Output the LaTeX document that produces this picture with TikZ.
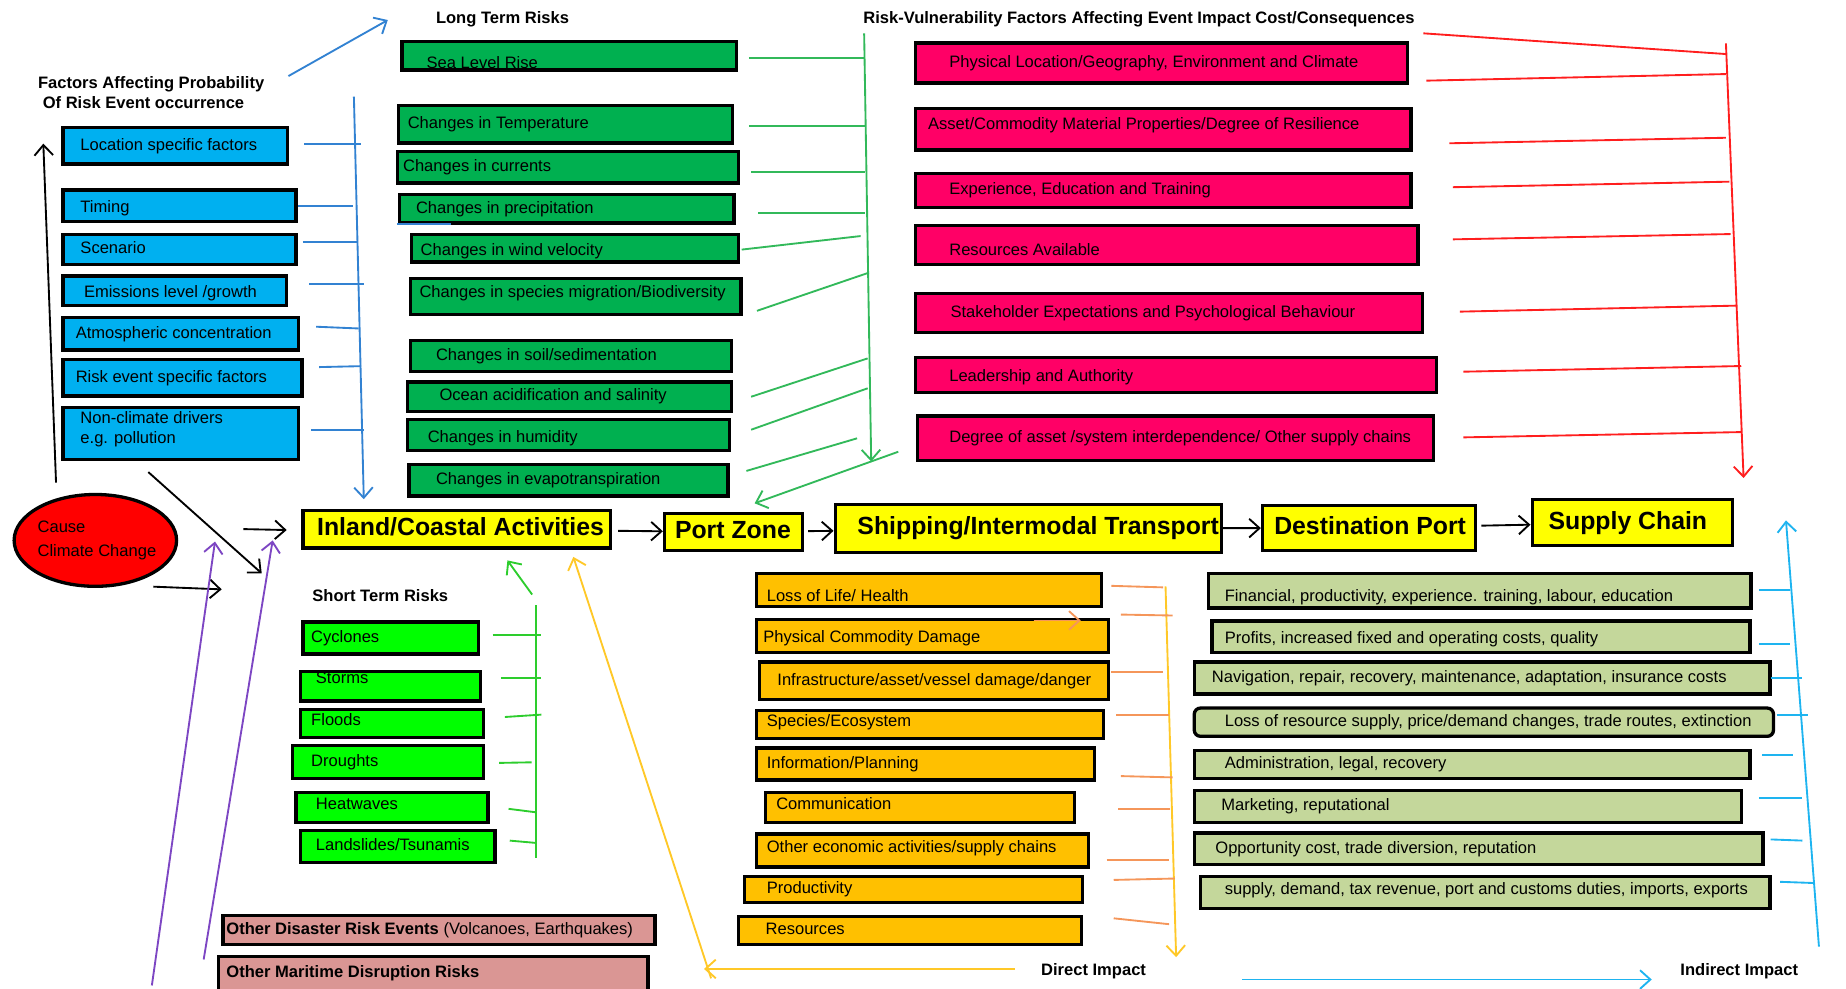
\documentclass[tikz,border=0pt]{standalone}
\usepackage{fontspec}
\setmainfont{Liberation Sans}
\usetikzlibrary{arrows.meta,shapes.geometric}
\definecolor{factorblue}{HTML}{00B0F0}
\definecolor{longgreen}{HTML}{00B050}
\definecolor{vulnpink}{HTML}{FF0066}
\definecolor{chainyellow}{HTML}{FFFF00}
\definecolor{shortgreen}{HTML}{00FF00}
\definecolor{otherrose}{HTML}{DA9694}
\definecolor{directorange}{HTML}{FFC000}
\definecolor{indirectolive}{HTML}{C4D79B}
\definecolor{causered}{HTML}{FF0000}
\definecolor{linkblue}{RGB}{50,130,210}
\definecolor{linkgreen}{RGB}{50,185,90}
\definecolor{linkred}{RGB}{255,30,30}
\definecolor{linkpurple}{RGB}{125,70,195}
\definecolor{linklime}{RGB}{45,205,45}
\definecolor{linkamber}{RGB}{255,200,40}
\definecolor{linksalmon}{RGB}{245,150,90}
\definecolor{linkcyan}{RGB}{30,180,240}
\tikzset{
  cell/.style 2 args={
    draw=black,
    line width=1.6pt,
    minimum width={#1*0.02cm},
    minimum height={#2*0.02cm},
    inner sep=0pt,
    anchor=north west,
  },
  factor box/.style 2 args={cell={#1}{#2}, fill=factorblue},
  long box/.style 2 args={cell={#1}{#2}, fill=longgreen},
  vuln box/.style 2 args={cell={#1}{#2}, fill=vulnpink},
  chain box/.style 2 args={cell={#1}{#2}, fill=chainyellow},
  short box/.style 2 args={cell={#1}{#2}, fill=shortgreen},
  other box/.style 2 args={cell={#1}{#2}, fill=otherrose},
  direct box/.style 2 args={cell={#1}{#2}, fill=directorange},
  indirect box/.style 2 args={cell={#1}{#2}, fill=indirectolive},
  cause/.style={
    ellipse,
    draw=black,
    line width=1.6pt,
    fill=causered,
    minimum width={138*0.02cm},
    minimum height={78*0.02cm},
    inner sep=0pt,
  },
  tx/.style={anchor=west, inner sep=0pt, xshift={#1*0.02cm}, text height=6pt, text depth=1.8pt},
  tx2/.style={anchor=west, inner sep=0pt, xshift={#1*0.02cm}, align=left},
  tx down/.style={yshift={-#1*0.02cm}},
  tx up/.style={yshift={#1*0.02cm}},
  main tx/.style={tx=#1, font=\bfseries\fontsize{12}{14}\selectfont, text height=8.8pt, text depth=2.6pt},
  heading/.style={anchor=west, inner sep=0pt, font=\bfseries\fontsize{8}{9.6}\selectfont},
  sketch line/.style={line width=0.9pt},
  open head/.style={-{Straight Barb[length=5pt,width=9pt]}},
}
\begin{document}
\begin{tikzpicture}[x=0.02cm, y=-0.02cm, font=\fontsize{8}{9.6}\selectfont]
  \useasboundingbox (0,0) rectangle (1568,840);

  % headings
  \node [heading] (longterm) at (370,16) {Long Term Risks};
  \node [heading] (vulnerability) at (733,16) {Risk-Vulnerability Factors Affecting Event Impact Cost/Consequences};
  \node [heading, align=left] (factors) at (32,78.7) {Factors Affecting Probability\\\hspace*{0.08cm}Of Risk Event occurrence};
  \node [heading] (shortterm) at (265,506) {Short Term Risks};
  \node [heading] (direct) at (884,825) {Direct Impact};
  \node [heading] (indirect) at (1427,825) {Indirect Impact};

  % probability factors
  \node [factor box={191}{31}, label={[tx=16]west:Location specific factors}] (loc) at (52,107) {};
  \node [factor box={198}{27}, label={[tx=16, tx down=2]west:Timing}] (timing) at (52,160) {};
  \node [factor box={198}{25}, label={[tx=16]west:Scenario}] (scenario) at (52,198) {};
  \node [factor box={190}{25}, label={[tx=19, tx down=2]west:Emissions level /growth}] (emissions) at (52,233) {};
  \node [factor box={200}{28}, label={[tx=12]west:Atmospheric concentration}] (atmos) at (52,268) {};
  \node [factor box={203}{31}, label={[tx=12]west:Risk event specific factors}] (riskevent) at (52,304) {};
  \node [factor box={200}{44}, label={[tx2=16, tx up=4]west:Non-climate drivers\\e.g. pollution}] (nonclimate) at (52,345) {};

  % long term risks
  \node [long box={284}{24}, label={[tx=22, tx down=7]west:Sea Level Rise}] (sealevel) at (340,34) {};
  \node [long box={284}{32}, label={[tx=9]west:Changes in Temperature}] (temperature) at (337,88) {};
  \node [long box={290}{27}, label={[tx=6]west:Changes in currents}] (currents) at (336,127) {};
  \node [long box={284}{24}, label={[tx=15]west:Changes in precipitation}] (precipitation) at (338,164) {};
  \node [long box={278}{23}, label={[tx=9, tx down=2]west:Changes in wind velocity}] (wind) at (348,198) {};
  \node [long box={281}{31}, label={[tx=9, tx up=3]west:Changes in species migration/Biodiversity}] (migration) at (347,235) {};
  \node [long box={273}{26}, label={[tx=23]west:Changes in soil/sedimentation}] (soil) at (347,288) {};
  \node [long box={275}{25}, label={[tx=28]west:Ocean acidification and salinity}] (ocean) at (345,323) {};
  \node [long box={273}{26}, label={[tx=18, tx down=3]west:Changes in humidity}] (humidity) at (345,355) {};
  \node [long box={271}{27}, label={[tx=24]west:Changes in evapotranspiration}] (evapo) at (346,393) {};

  % vulnerability factors
  \node [vuln box={418}{34}, label={[tx=30]west:Physical Location/Geography, Environment and Climate}] (geography) at (776,35) {};
  \node [vuln box={421}{35}, label={[tx=12, tx up=4]west:Asset/Commodity Material Properties/Degree of Resilience}] (resilience) at (776,91) {};
  \node [vuln box={421}{29}, label={[tx=30]west:Experience, Education and Training}] (training) at (776,146) {};
  \node [vuln box={427}{33}, label={[tx=30, tx down=5]west:Resources Available}] (available) at (776,190) {};
  \node [vuln box={431}{33}, label={[tx=31]west:Stakeholder Expectations and Psychological Behaviour}] (stakeholder) at (776,248) {};
  \node [vuln box={443}{30}, label={[tx=30, tx down=2]west:Leadership and Authority}] (leadership) at (776,302) {};
  \node [vuln box={438}{38}, label={[tx=28]west:Degree of asset /system interdependence/ Other supply chains}] (interdependence) at (778,352) {};

  % cause and activity chain
  \node [cause, label={[tx2=21, font=\fontsize{8}{11.3}\selectfont]west:Cause\\Climate Change}] (cause) at (81,459) {};
  \node [chain box={261}{32}, label={[main tx=13]west:Inland/Coastal Activities}] (inland) at (256,432) {};
  \node [chain box={117}{31}, label={[main tx=10]west:Port Zone}] (port) at (563,435) {};
  \node [chain box={328}{41}, label={[main tx=20]west:Shipping/Intermodal Transport}] (shipping) at (708,427) {};
  \node [chain box={181}{38}, label={[main tx=11]west:Destination Port}] (destination) at (1071,428) {};
  \node [chain box={170}{39}, label={[main tx=15]west:Supply Chain}] (supply) at (1300,423) {};

  % short term risks
  \node [short box={149}{27}, label={[tx=8]west:Cyclones}] (cyclones) at (256,527) {};
  \node [short box={153}{25}, label={[tx=14, tx up=6]west:Storms}] (storms) at (254,569) {};
  \node [short box={155}{24}, label={[tx=10, tx up=2]west:Floods}] (floods) at (254,601) {};
  \node [short box={162}{28}, label={[tx=17]west:Droughts}] (droughts) at (247,632) {};
  \node [short box={163}{25}, label={[tx=18, tx up=2]west:Heatwaves}] (heatwaves) at (250,672) {};
  \node [short box={165}{27}, label={[tx=14]west:Landslides/Tsunamis}] (landslides) at (254,704) {};
  \node [other box={367}{25}, label={[tx=4]west:{\bfseries Other Disaster Risk Events} (Volcanoes, Earthquakes)}] (disaster) at (188,776) {};
  \node [other box={365}{34}, label={[tx=8, tx up=3]west:\bfseries Other Maritime Disruption Risks}] (maritime) at (184,811) {};

  % direct impacts
  \node [direct box={293}{28}, label={[tx=10, tx down=6]west:Loss of Life/ Health}] (life) at (641,486) {};
  \node [direct box={299}{28}, label={[tx=7, tx down=2]west:Physical Commodity Damage}] (commodity) at (641,525) {};
  \node [direct box={296}{32}, label={[tx=16]west:Infrastructure/asset/vessel damage/danger}] (infrastructure) at (644,561) {};
  \node [direct box={295}{24}, label={[tx=10, tx up=2]west:Species/Ecosystem}] (ecosystem) at (641,602) {};
  \node [direct box={287}{27}, label={[tx=10]west:Information/Planning}] (planning) at (641,634) {};
  \node [direct box={262}{25}, label={[tx=10, tx up=2]west:Communication}] (communication) at (649,672) {};
  \node [direct box={282}{28}, label={[tx=10, tx up=2]west:Other economic activities/supply chains}] (economic) at (641,707) {};
  \node [direct box={287}{22}, label={[tx=20]west:Productivity}] (productivity) at (631,743) {};
  \node [direct box={291}{24}, label={[tx=24]west:Resources}] (resources) at (626,777) {};

  % indirect impacts
  \node [indirect box={461}{29}, label={[tx=15, tx down=5]west:Financial, productivity, experience. training, labour, education}] (financial) at (1025,486) {};
  \node [indirect box={457}{27}, label={[tx=12, tx down=2]west:Profits, increased fixed and operating costs, quality}] (profits) at (1028,526) {};
  \node [indirect box={489}{27}, label={[tx=16]west:Navigation, repair, recovery, maintenance, adaptation, insurance costs}] (navigation) at (1013,561) {};
  \node [indirect box={492}{24}, rounded corners=3pt, label={[tx=27]west:Loss of resource supply, price/demand changes, trade routes, extinction}] (lossres) at (1013,600) {};
  \node [indirect box={472}{24}, label={[tx=27]west:Administration, legal, recovery}] (administration) at (1013,636) {};
  \node [indirect box={465}{27}, label={[tx=24]west:Marketing, reputational}] (marketing) at (1013,670) {};
  \node [indirect box={483}{27}, label={[tx=19]west:Opportunity cost, trade diversion, reputation}] (opportunity) at (1013,706) {};
  \node [indirect box={484}{27}, label={[tx=22, tx up=2]west:supply, demand, tax revenue, port and customs duties, imports, exports}] (duties) at (1018,743) {};

  % chain arrows
  \draw [sketch line, black, open head, shorten <=3pt] (inland) -- (port);
  \draw [sketch line, black, open head, shorten <=2pt] (port) -- (shipping);
  \draw [sketch line, black, open head] (shipping) -- (destination);
  \draw [sketch line, black, open head, shorten <=2pt] (destination) -- (supply);

  % trunk ends
  \coordinate (factor top) at (300.6,82);
  \coordinate (factor end) at (309,424);
  \coordinate (long top) at (734,28.3);
  \coordinate (long end) at (740,392);
  \coordinate (vuln top) at (1466,36.8);
  \coordinate (vuln end) at (1481,406);
  \coordinate (short top) at (455.6,514);
  \coordinate (short end) at (455.6,729);
  \coordinate (direct top) at (990,498);
  \coordinate (direct end) at (999,813);
  \coordinate (indirect low) at (1545,804);
  \coordinate (indirect end) at (1517,442);

  % probability factors
  \draw [sketch line, linkblue, open head] (245,64.6) -- (329.4,17);
  \draw [sketch line, linkblue, open head] (factor top) -- (factor end);
  \foreach \xa/\ya/\xb/\yb in {258.6/122.3/306.7/122.3, 253.2/175/299.8/175, 257.3/205.3/303.9/205.3, 262.7/241.2/309.6/241.2, 268.5/277.5/304.7/279, 271/311.8/306.7/311, 264.3/365.3/309.6/365.3}
    \draw [sketch line, linkblue] (\xa,\ya) -- (\xb,\yb);
  \draw [sketch line, linkblue] (337,190.3) -- (383,190.3);

  % long term risks
  \draw [sketch line, linkgreen, open head] (long top) -- (long end);
  \foreach \xa/\ya/\xb/\yb in {636/49.5/734/49.5, 636/107/735/107, 638/145.8/735/145.8, 644/181.2/735/181.2, 630/212/731/200.5, 643/264/738/231.6, 638/337/737/304.4, 638/365/737/329.8, 634/400/728/372.3}
    \draw [sketch line, linkgreen] (\xa,\ya) -- (\xb,\yb);
  \draw [sketch line, linkgreen, open head] (763,383.7) -- (641,427.5);

  % vulnerability factors
  \draw [sketch line, linkred, open head] (vuln top) -- (vuln end);
  \foreach \xa/\ya/\xb/\yb in {1209/28.3/1466/45.9, 1211.5/68.5/1466/62.9, 1231/121.7/1466/117, 1234/159/1469/154.3, 1234/203.3/1470/198.8, 1240/264.7/1475/259.6, 1243/315.7/1479/310.9, 1243/371.5/1479/367}
    \draw [sketch line, linkred] (\xa,\ya) -- (\xb,\yb);

  % cause
  \draw [sketch line, black, open head] (47.6,410) -- (36.8,122);
  \draw [sketch line, black, open head] (126,401) -- (222.3,487);
  \draw [sketch line, black, open head] (206.7,449.4) -- (243.5,450.2);
  \draw [sketch line, black, open head] (130.2,498.3) -- (188.3,500.6);
  \draw [sketch line, linkpurple, open head] (129,837) -- (182.6,460);
  \draw [sketch line, linkpurple, open head] (173,815) -- (231.6,459);

  % short term risks
  \draw [sketch line, linklime] (short top) -- (short end);
  \foreach \xa/\ya/\xb/\yb in {418.5/539.4/459.8/539.4, 425.5/576/459.8/576, 428.9/609/459.8/607, 424/648/451.5/647.5, 432/687/455.6/690, 433/714/455.6/716}
    \draw [sketch line, linklime] (\xa,\ya) -- (\xb,\yb);
  \draw [sketch line, linklime, open head] (452,505) -- (431,476);

  % direct impacts
  \draw [sketch line, linkamber, open head] (direct top) -- (direct end);
  \foreach \xa/\ya/\xb/\yb in {944/497.6/988/498.9, 952/522/996/522.8, 944/570.5/988/570.5, 948/607.3/993/607.3, 952/659.2/996/660.3, 950/687.4/994/687.4, 940/730.4/993/730.4, 946/747.4/998/746.2, 946/780/993/785}
    \draw [sketch line, linksalmon] (\xa,\ya) -- (\xb,\yb);
  \draw [sketch line, linksalmon, open head] (878,527) -- (918,527);
  \draw [sketch line, linkamber, open head] (862,823) -- (598,823);
  \draw [sketch line, linkamber, open head] (604,831) -- (487,473);

  % indirect impacts
  \draw [sketch line, linkcyan, open head] (indirect low) -- (indirect end);
  \foreach \xa/\ya/\xb/\yb in {1494/501/1520/501, 1494/547/1520/547, 1504/576/1531/576, 1509/607/1536/607, 1497/641/1523/641, 1494/678/1531/678, 1504/713/1531/714, 1512/749/1540/750}
    \draw [sketch line, linkcyan] (\xa,\ya) -- (\xb,\yb);
  \draw [sketch line, linkcyan, open head] (1055,832) -- (1403,832);
\end{tikzpicture}
\end{document}
